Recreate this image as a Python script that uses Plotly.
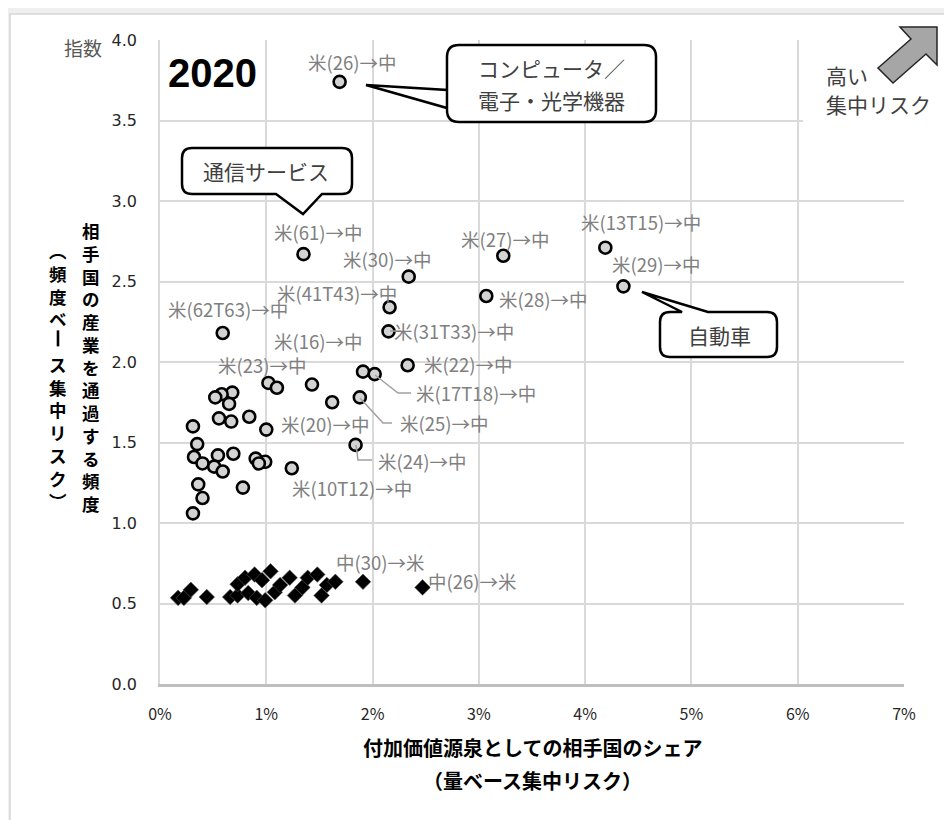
import plotly.graph_objects as go

# ---------------- data (x: share %, y: index) ----------------
us_cn_x = [1.69, 1.35, 2.34, 3.23, 4.19, 4.36, 3.07, 2.16, 2.15, 2.33, 0.59, 1.91, 2.02,
           1.02, 1.10, 1.43, 1.62, 1.88, 0.68, 0.58, 0.52, 0.65, 0.555, 0.67, 0.84, 1.00,
           0.31, 0.35, 0.32, 0.40, 0.545, 0.69, 0.51, 0.59, 0.90, 0.99, 0.93, 1.24, 1.84,
           0.36, 0.78, 0.40, 0.31]
us_cn_y = [3.74, 2.67, 2.53, 2.66, 2.71, 2.47, 2.41, 2.34, 2.19, 1.98, 2.18, 1.94, 1.925,
           1.87, 1.84, 1.86, 1.75, 1.78, 1.81, 1.80, 1.78, 1.74, 1.65, 1.63, 1.66, 1.58,
           1.60, 1.49, 1.41, 1.37, 1.42, 1.43, 1.35, 1.32, 1.40, 1.38, 1.37, 1.34, 1.485,
           1.24, 1.22, 1.155, 1.06]

cn_us_x = [0.17, 0.225, 0.29, 0.44, 0.66, 0.73, 0.73, 0.80, 0.83, 0.89, 0.91, 0.96, 0.99,
           1.04, 1.08, 1.13, 1.22, 1.27, 1.34, 1.39, 1.48, 1.52, 1.57, 1.65, 1.91, 2.47]
cn_us_y = [0.535, 0.535, 0.585, 0.54, 0.54, 0.55, 0.62, 0.66, 0.565, 0.68, 0.535, 0.645, 0.52,
           0.70, 0.57, 0.615, 0.66, 0.55, 0.60, 0.66, 0.68, 0.55, 0.615, 0.635, 0.635, 0.60]

x_ticks = [0, 1, 2, 3, 4, 5, 6, 7]
x_tick_text = ["0%", "1%", "2%", "3%", "4%", "5%", "6%", "7%"]
y_ticks = [0.0, 0.5, 1.0, 1.5, 2.0, 2.5, 3.0, 3.5, 4.0]

point_labels = ["米(26)→中", "米(61)→中", "米(30)→中", "米(41T43)→中", "米(62T63)→中",
                "米(27)→中", "米(13T15)→中", "米(29)→中", "米(28)→中", "米(31T33)→中",
                "米(16)→中", "米(23)→中", "米(22)→中", "米(17T18)→中", "米(20)→中",
                "米(25)→中", "米(24)→中", "米(10T12)→中", "中(30)→米", "中(26)→米"]

# ---------------- layout helpers (screen pixel -> paper) ----------------
BODY = 8                      # default page margin of the html body
W, H = 952 - BODY, 820 - BODY
L, T, PW, PH = 160, 40, 744, 644   # plot area in screen pixels


def px(x):
    return (x - L) / PW


def py(y):
    return (T + PH - y) / PH


def path(points, close=True):
    s = "M {:.5f},{:.5f}".format(px(points[0][0]), py(points[0][1]))
    for p in points[1:]:
        if p[0] == "Q":
            s += " Q {:.5f},{:.5f} {:.5f},{:.5f}".format(px(p[1]), py(p[2]), px(p[3]), py(p[4]))
        else:
            s += " L {:.5f},{:.5f}".format(px(p[0]), py(p[1]))
    if close:
        s += " Z"
    return s


def callout(x0, y0, x1, y1, r, side, a, b, tip):
    pts = [(x0 + r, y0)]
    if side == "top":
        pts += [(a, y0), tip, (b, y0)]
    pts += [(x1 - r, y0), ("Q", x1, y0, x1, y0 + r), (x1, y1 - r), ("Q", x1, y1, x1 - r, y1)]
    if side == "bottom":
        pts += [(b, y1), tip, (a, y1)]
    pts += [(x0 + r, y1), ("Q", x0, y1, x0, y1 - r)]
    if side == "left":
        pts += [(x0, b), tip, (x0, a)]
    pts += [(x0, y0 + r), ("Q", x0, y0, x0 + r, y0)]
    return path(pts)


FONT = "Noto Sans CJK JP"
GRAY_TXT = "#808080"

fig = go.Figure()
fig.add_trace(go.Scatter(
    x=cn_us_x, y=cn_us_y, mode="markers", showlegend=False,
    marker=dict(symbol="diamond", size=12, color="black", line=dict(width=0.6, color="#555555"))))
fig.add_trace(go.Scatter(
    x=us_cn_x, y=us_cn_y, mode="markers", showlegend=False,
    marker=dict(symbol="circle", size=12, color="#d3d3d3", line=dict(width=2.6, color="black"))))

shapes = []
# outer frame
shapes.append(dict(type="rect", xref="paper", yref="paper", x0=px(10), x1=px(960), y0=py(14), y1=py(830),
                   fillcolor="white", line=dict(color="#d6d6d6", width=1.5), layer="below"))
# white patch top right (covers grid)
shapes.append(dict(type="rect", xref="paper", yref="paper", x0=px(803), x1=px(952), y0=py(17), y1=py(138),
                   fillcolor="white", line=dict(width=0), layer="above"))
# arrow
shapes.append(dict(type="path", xref="paper", yref="paper",
                   path=path([(878, 68), (911, 39), (900, 27), (937, 27), (937, 65), (926, 54), (893, 83)]),
                   fillcolor="#a6a6a6", line=dict(color="#262626", width=1.5), layer="above"))
# callouts
shapes.append(dict(type="path", xref="paper", yref="paper",
                   path=callout(447, 45, 656, 122, 12, "left", 108, 90, (366, 85)),
                   fillcolor="white", line=dict(color="black", width=2.5), layer="above"))
shapes.append(dict(type="path", xref="paper", yref="paper",
                   path=callout(182, 148, 352, 194, 10, "bottom", 276, 322, (303, 214)),
                   fillcolor="white", line=dict(color="black", width=2.5), layer="above"))
shapes.append(dict(type="path", xref="paper", yref="paper",
                   path=callout(660, 312, 777, 357, 10, "top", 682, 708, (642, 292)),
                   fillcolor="white", line=dict(color="black", width=2.5), layer="above"))
# leader lines
for pts in [[(390, 331), (401, 331)],
            [(375, 375), (398, 393), (411, 393)],
            [(360, 398), (383, 423), (392, 423)],
            [(356, 445), (358, 460), (372, 460)]]:
    shapes.append(dict(type="path", xref="paper", yref="paper", path=path(pts, close=False),
                       line=dict(color="#a0a0a0", width=1.5), layer="above"))

ann = []


def text(x, y, s, size, color="black", bold=False, anchor="center", family=FONT, vanchor="middle"):
    ann.append(dict(xref="paper", yref="paper", x=px(x), y=py(y), text=("<b>%s</b>" % s) if bold else s,
                    showarrow=False, xanchor=anchor, yanchor=vanchor,
                    font=dict(family=family, size=size, color=color)))


label_pos = [(352, 62), (318, 232), (387, 259), (337, 293), (228, 309), (505, 239), (641, 222),
             (656, 264), (543, 299), (454, 331), (318, 341), (262, 365), (468, 364), (476, 393),
             (325, 424), (444, 423), (422, 461), (352, 488), (380, 562), (472, 581)]
for s, (x, y) in zip(point_labels, label_pos):
    text(x, y, s, 18.5, GRAY_TXT)

text(166, 73, "2020", 40, "black", True, "left", "Liberation Sans")
text(83, 47, "指数", 19, "#595959")
text(551, 68, "コンピュータ／", 21, "#404040")
text(551, 100, "電子・光学機器", 21, "#404040")
text(266, 171, "通信サービス", 21, "#404040")
text(719, 335, "自動車", 21, "#404040")
text(824, 75, "高い", 21, "#404040", anchor="left")
text(824, 104, "集中リスク", 21, "#404040", anchor="left")
text(532, 747, "付加価値源泉としての相手国のシェア", 20, "black", True)
text(532, 780, "（量ベース集中リスク）", 20, "black", True)

# vertical (tategaki) axis title, one character per line
VFS = 17.5
STEP = VFS * 1.3
col1 = list("相手国の産業を通過する頻度")
text(91, 216, "<br>".join(col1), VFS, "black", True, vanchor="top")
col2 = ["︵", "頻", "度", "ベ", "　", "ス", "集", "中", "リ", "ス", "ク", "︶"]
text(58, 236, "<br>".join(col2), VFS, "black", True, vanchor="top")
bar_y = 236 + STEP * 4.5
shapes.append(dict(type="line", xref="paper", yref="paper", x0=px(58), x1=px(58),
                   y0=py(bar_y - 8), y1=py(bar_y + 8), line=dict(color="black", width=2.6),
                   layer="above"))

fig.update_layout(
    width=W, height=H,
    margin=dict(l=L - BODY, r=W - (L - BODY) - PW, t=T - BODY, b=H - (T - BODY) - PH),
    paper_bgcolor="#efefef", plot_bgcolor="rgba(0,0,0,0)",
    font=dict(family=FONT),
    shapes=shapes, annotations=ann,
    xaxis=dict(range=[0, 7], tickvals=x_ticks, ticktext=x_tick_text, showgrid=True,
               gridcolor="#d9d9d9", gridwidth=1.5, zeroline=False, showline=True,
               linecolor="#bfbfbf", linewidth=2.5, ticks="", ticklabelstandoff=14,
               tickfont=dict(size=16, color="#262626", family=FONT)),
    yaxis=dict(range=[0, 4], tickvals=y_ticks, tickformat=".1f", showgrid=True,
               gridcolor="#d9d9d9", gridwidth=1.5, zeroline=False, showline=True,
               linecolor="#d9d9d9", linewidth=1.5, ticks="", ticklabelstandoff=18,
               tickfont=dict(size=16, color="#262626", family="DejaVu Sans")),
)

fig.write_html("out.html")
